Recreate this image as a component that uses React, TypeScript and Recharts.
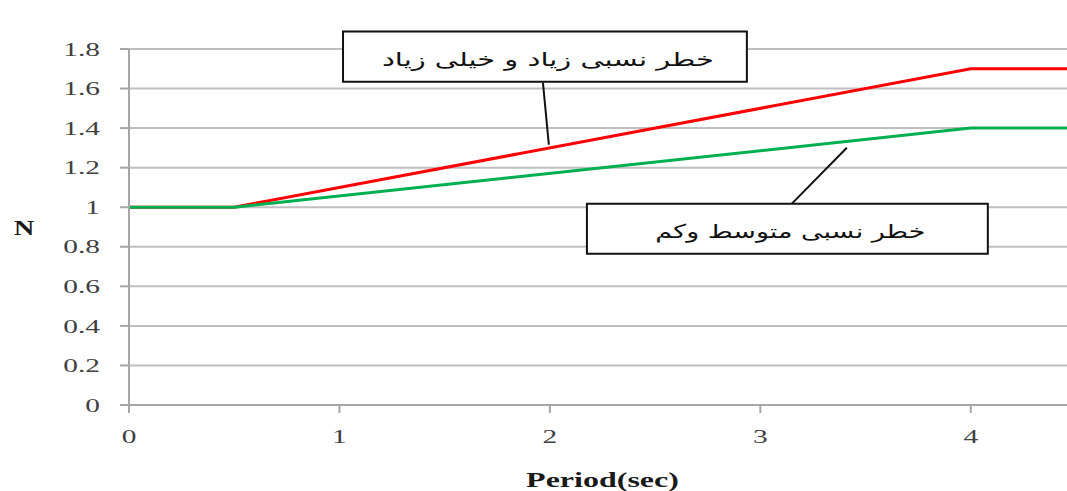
import React from "react";
import {
  LineChart,
  Line,
  XAxis,
  YAxis,
  CartesianGrid,
  ReferenceArea,
  ReferenceLine,
} from "recharts";

const periods = [0, 0.5, 4, 4.5];
const highRisk = [1, 1, 1.7, 1.7];
const mediumLowRisk = [1, 1, 1.4, 1.4];
const xTicks = [0, 1, 2, 3, 4];
const yTicks = [0, 0.2, 0.4, 0.6, 0.8, 1, 1.2, 1.4, 1.6, 1.8];
const highLabel = "خطر نسبی زیاد و خیلی زیاد";
const lowLabel = "خطر نسبی متوسط وکم";
const xTitle = "Period(sec)";
const yTitle = "N";

const data = periods.map((p, i) => ({
  period: p,
  high: highRisk[i],
  low: mediumLowRisk[i],
}));

const SERIF = "'Liberation Serif', 'Times New Roman', serif";
const SX = 1.55;

const YTick = (props: any) => {
  const { x, y, payload } = props;
  return (
    <g transform={`translate(${x},${y}) scale(${SX},1)`}>
      <text x={0} y={0} dy="0.35em" textAnchor="end" style={{ fontFamily: SERIF }} fontSize={19} fill="#404040">
        {String(payload.value)}
      </text>
    </g>
  );
};

const XTick = (props: any) => {
  const { x, y, payload } = props;
  return (
    <g transform={`translate(${x},${y}) scale(${SX},1)`}>
      <text x={0} y={0} dy="0.7em" textAnchor="middle" style={{ fontFamily: SERIF }} fontSize={19} fill="#404040">
        {String(payload.value)}
      </text>
    </g>
  );
};

const XTitle = (props: any) => {
  const { viewBox } = props;
  const cx = viewBox.x + viewBox.width / 2;
  const cy = viewBox.y + viewBox.height - 4;
  return (
    <g transform={`translate(${cx},${cy}) scale(1.6,1)`}>
      <text x={0} y={0} textAnchor="middle" style={{ fontFamily: SERIF }} fontWeight="bold" fontSize={20} fill="#1a1a1a">
        {xTitle}
      </text>
    </g>
  );
};

const YTitle = (props: any) => {
  const { viewBox } = props;
  const cx = 16;
  const cy = viewBox.y + viewBox.height / 2;
  return (
    <g transform={`translate(${cx},${cy}) scale(1.3,1)`}>
      <text x={0} y={0} dy="0.35em" textAnchor="middle" style={{ fontFamily: SERIF }} fontWeight="bold" fontSize={22} fill="#1a1a1a">
        {yTitle}
      </text>
    </g>
  );
};

const makeBoxLabel = (text: string, len: number) => (props: any) => {
  const { viewBox } = props;
  const cx = viewBox.x + viewBox.width / 2 + 3;
  const cy = viewBox.y + viewBox.height / 2 + 3;
  return (
    <text
      x={cx}
      y={cy}
      dy="0.35em"
      textAnchor="middle"
      style={{ fontFamily: "'DejaVu Sans', sans-serif" }}
      fontSize={19}
      fill="#111"
      direction="rtl"
      textLength={len}
      lengthAdjust="spacingAndGlyphs"
    >
      {text}
    </text>
  );
};

export default function App() {
  return (
    <div
      style={{
        position: "fixed",
        left: 8,
        top: 8,
        width: 1059,
        height: 483,
        overflow: "hidden",
        background: "#fff",
      }}
    >
      <LineChart
        width={1075}
        height={483}
        data={data}
        margin={{ top: 41, right: 7, bottom: 0, left: 0 }}
      >
        <CartesianGrid vertical={false} stroke="#bfbfbf" strokeWidth={2} />
        <XAxis
          dataKey="period"
          type="number"
          domain={[0, 4.5]}
          ticks={xTicks}
          allowDataOverflow
          height={86}
          tickSize={8}
          tickMargin={17}
          axisLine={{ stroke: "#a6a6a6", strokeWidth: 2 }}
          tickLine={{ stroke: "#a6a6a6", strokeWidth: 2 }}
          tick={<XTick />}
          label={{ content: (p: any) => <XTitle {...p} /> }}
        />
        <YAxis
          type="number"
          domain={[0, 1.8]}
          ticks={yTicks}
          width={121}
          tickSize={9}
          tickMargin={20}
          interval={0}
          axisLine={{ stroke: "#a6a6a6", strokeWidth: 2 }}
          tickLine={{ stroke: "#a6a6a6", strokeWidth: 2 }}
          tick={<YTick />}
          label={{ content: (p: any) => <YTitle {...p} /> }}
        />
        <Line
          dataKey="high"
          stroke="#ff0000"
          strokeWidth={3}
          dot={false}
          isAnimationActive={false}
        />
        <Line
          dataKey="low"
          stroke="#00b050"
          strokeWidth={3}
          dot={false}
          isAnimationActive={false}
        />
        <ReferenceLine
          segment={[
            { x: 1.967, y: 1.63 },
            { x: 1.995, y: 1.316 },
          ]}
          stroke="#111"
          strokeWidth={2}
          ifOverflow="visible"
        />
        <ReferenceLine
          segment={[
            { x: 3.15, y: 1.018 },
            { x: 3.411, y: 1.301 },
          ]}
          stroke="#111"
          strokeWidth={2}
          ifOverflow="visible"
        />
        <ReferenceArea
          x1={1.017}
          x2={2.936}
          y1={1.635}
          y2={1.889}
          fill="#ffffff"
          fillOpacity={1}
          stroke="#111"
          strokeWidth={2}
          ifOverflow="visible"
          label={{ content: makeBoxLabel(highLabel, 332) }}
        />
        <ReferenceArea
          x1={2.176}
          x2={4.081}
          y1={0.765}
          y2={1.018}
          fill="#ffffff"
          fillOpacity={1}
          stroke="#111"
          strokeWidth={2}
          ifOverflow="visible"
          label={{ content: makeBoxLabel(lowLabel, 270) }}
        />
      </LineChart>
    </div>
  );
}
